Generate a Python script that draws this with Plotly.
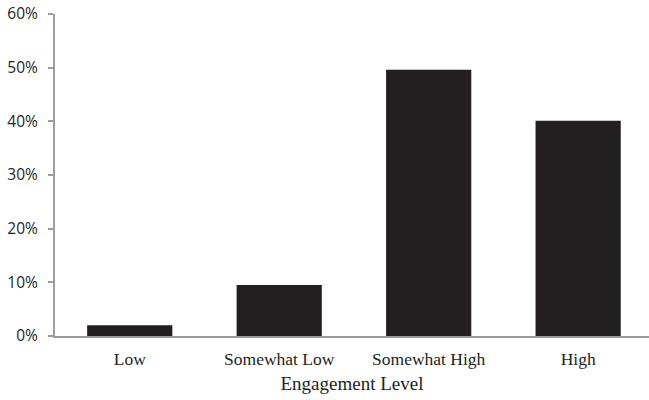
import plotly.graph_objects as go

categories = ["Low", "Somewhat Low", "Somewhat High", "High"]
values = [2.0, 9.5, 49.6, 40.1]
y_ticks = [0, 10, 20, 30, 40, 50, 60]
y_tick_labels = ["0%", "10%", "20%", "30%", "40%", "50%", "60%"]

fig = go.Figure(go.Bar(
    x=list(range(len(categories))), y=values, width=0.57,
    marker=dict(color="#231f20", line=dict(width=0)),
    hoverinfo="skip",
))

fig.update_layout(
    width=649, height=400,
    margin=dict(l=55, r=0, t=14, b=64, autoexpand=False),
    paper_bgcolor="white", plot_bgcolor="white",
    showlegend=False,
    xaxis=dict(
        range=[-0.5, 3.474],
        tickvals=list(range(len(categories))), ticktext=categories,
        tickfont=dict(family="Liberation Serif", size=17.5, color="#231f20"),
        showgrid=False, zeroline=False, automargin=False,
        showline=True, linecolor="#9d9d9f", linewidth=2,
        ticks="", ticklabelstandoff=6,
        title=dict(text="Engagement Level", standoff=9,
                   font=dict(family="Liberation Serif", size=19, color="#231f20")),
    ),
    yaxis=dict(
        range=[0, 60],
        tickvals=y_ticks, ticktext=y_tick_labels,
        tickfont=dict(family="Open Sans", size=15.5, color="#231f20"),
        showgrid=False, zeroline=False, automargin=False,
        showline=True, linecolor="#9d9d9f", linewidth=2,
        ticks="outside", ticklen=5, tickwidth=2, tickcolor="#9d9d9f",
        ticklabelstandoff=7,
    ),
)

fig.write_html("out.html", config={"displayModeBar": False},
               post_script="document.body.style.margin='0';")
